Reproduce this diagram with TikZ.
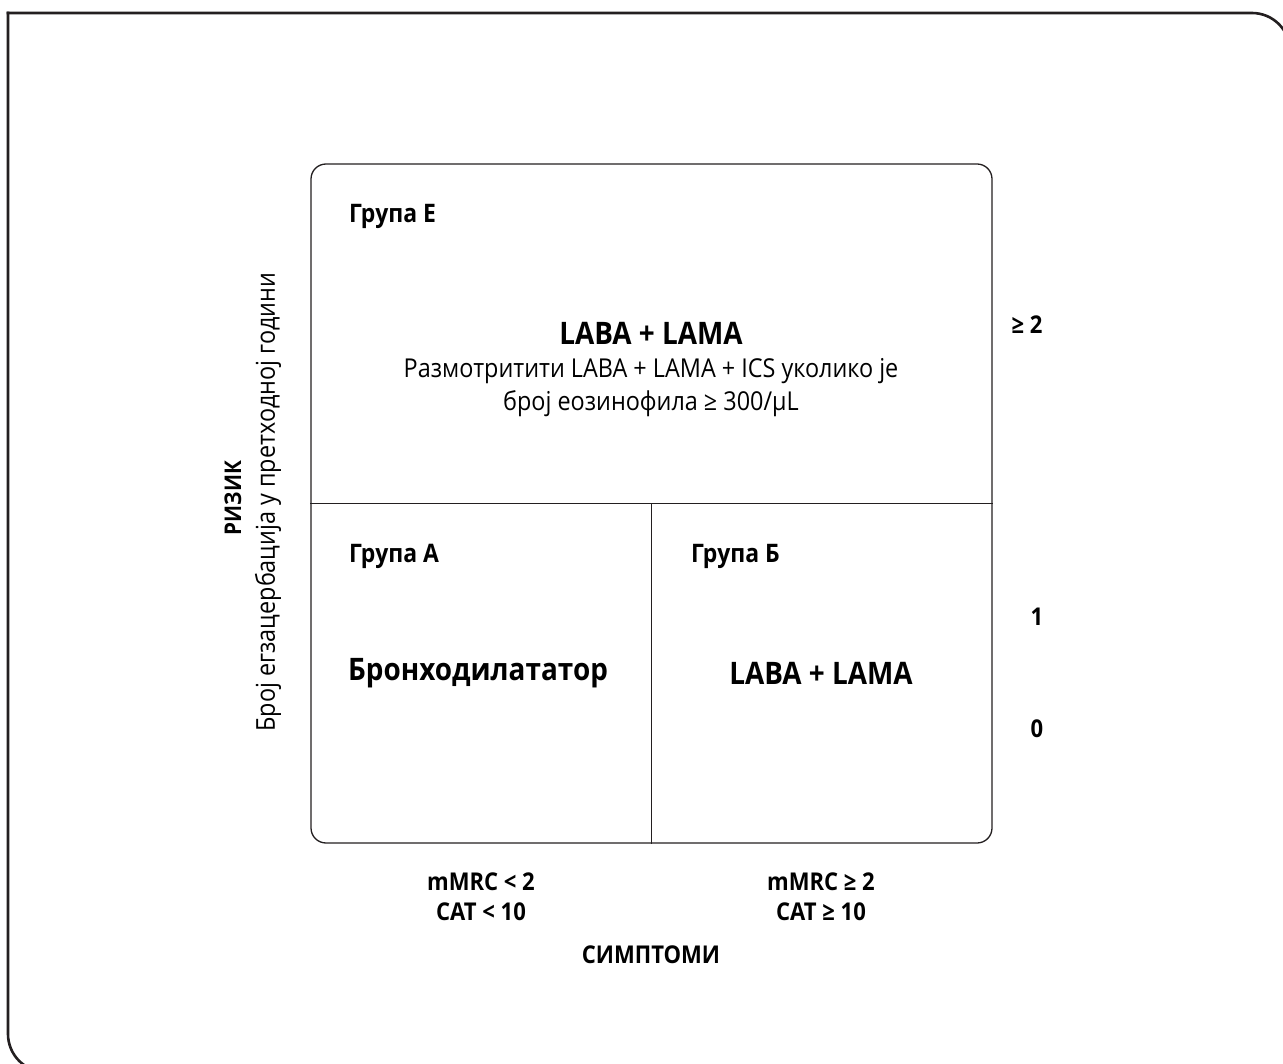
\documentclass[tikz,border=0pt]{standalone}
\usepackage{fontspec}
\setmainfont{Open Sans}[FakeStretch=0.9]
\definecolor{linec}{HTML}{231F20}
\tikzset{
  outerline/.style={draw=linec, line width=2.6pt, line cap=rect},
  boxline/.style={draw=linec, line width=1.3pt},
  grp/.style={anchor=west, inner sep=0pt, font=\bfseries\fontsize{25.5}{30}\selectfont},
  big/.style={inner sep=0pt, font=\bfseries\fontsize{31}{36}\selectfont},
  reg/.style={inner sep=0pt, align=center, font=\fontsize{26}{33}\selectfont},
  axis/.style={inner sep=0pt, align=center, font=\bfseries\fontsize{24.5}{30}\selectfont},
}
\begin{document}
\begin{tikzpicture}[x=1pt,y=-1pt]
\useasboundingbox (0,0) rectangle (1283,1064);
\begin{scope}
\clip (0,0) rectangle (1283,1064);
\draw[outerline, rounded corners=38pt] (1290,600) -- (1290,13) -- (8,13);
\draw[outerline, rounded corners=38pt] (8,13) -- (8,1072) -- (600,1072);
\end{scope}
\node[boxline, rectangle, rounded corners=15pt, minimum width=681pt, minimum height=679pt, inner sep=0pt] (box) at (651.5,503.5) {};
\draw[boxline] (box.west) -- (box.east);
\draw[boxline] (box.center) -- (box.south);
\node[grp] (gE) at (349,216) {Група Е};
\node[grp] (gA) at (349,556) {Група А};
\node[grp] (gB) at (691,556) {Група Б};
\node[big] (tE) at (651,333) {LABA + LAMA};
\node[reg] (sE) at (651,388) {Размотритити LABA + LAMA + ICS уколико је\\број еозинофила ≥ 300/µL};
\node[big] (tA) at (478,673) {Бронходилататор};
\node[big] (tB) at (821,673) {LABA + LAMA};
\node[axis] (r2) at (1027,325) {≥ 2};
\node[axis] (r1) at (1037,617) {1};
\node[axis] (r0) at (1037,729) {0};
\node[axis] (cA) at (481,897) {mMRC < 2\\CAT < 10};
\node[axis] (cB) at (821,897) {mMRC ≥ 2\\CAT ≥ 10};
\node[axis] (sx) at (651,955) {СИМПТОМИ};
\node[axis, font=\bfseries\fontsize{23}{28}\selectfont, rotate=90] (ry) at (233,498) {РИЗИК};
\node[reg, rotate=90] (ry2) at (268,502) {Број егзацербација у претходној години};
\end{tikzpicture}
\end{document}
